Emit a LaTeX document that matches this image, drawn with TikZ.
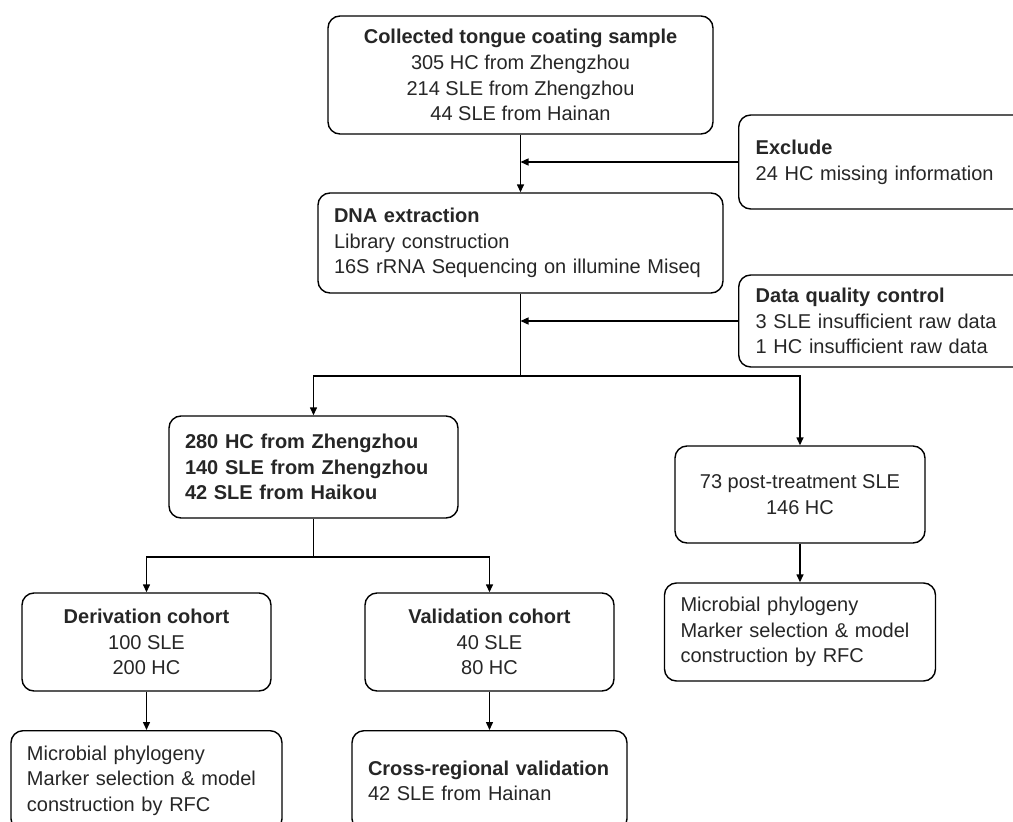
\documentclass[tikz,border=0pt]{standalone}
\usepackage{fontspec}
\setmainfont{Liberation Sans}
\usepackage{tikz}
\usetikzlibrary{arrows.meta,positioning,calc}

\begin{document}
\begin{tikzpicture}[
    x=1pt, y=-1pt,
    >={Triangle[length=8pt, width=7pt]},
    line width=1.4pt,
    box/.style={
        rectangle, draw, rounded corners=12pt,
        inner ysep=0pt, inner xsep=16pt,
        font=\fontsize{20}{25.7}\selectfont,
        text=black!85
    },
    midbox/.style={box, align=center},
    leftbox/.style={box, align=left}
]
    \useasboundingbox (0,0) rectangle (1013,822);
    \clip (0,0) rectangle (1013,822);

    % Sampling and sequencing
    \node [midbox, minimum width=385pt, minimum height=118pt] (collect) at (520.5,75)
        {\textbf{Collected tongue coating sample}\\305 HC from Zhengzhou\\214 SLE from Zhengzhou\\44 SLE from Hainan};
    \node [leftbox, text width=373pt, minimum height=100pt] (dna) at (520.5,243)
        {\textbf{DNA extraction}\\Library construction\\16S rRNA Sequencing on illumine Miseq};
    \node [leftbox, anchor=west, text width=300pt, minimum height=94pt, inner xsep=17pt] (exclude) at (738,162)
        {\textbf{Exclude}\\24 HC missing information};
    \node [leftbox, anchor=west, text width=300pt, minimum height=92pt, inner xsep=17pt] (quality) at (738,321)
        {\textbf{Data quality control}\\3 SLE insufficient raw data\\1 HC insufficient raw data};

    % Cohorts
    \node [leftbox, text width=257pt, minimum height=102pt] (cohorts) at (313.5,467)
        {\textbf{280 HC from Zhengzhou}\\\textbf{140 SLE from Zhengzhou}\\\textbf{42 SLE from Haikou}};
    \node [midbox, minimum width=250pt, minimum height=97pt] (posttreat) at (800,494.5)
        {73 post-treatment SLE\\146 HC};
    \node [leftbox, text width=239pt, minimum height=98pt, inner xsep=16pt] (modelright) at (800,632)
        {Microbial phylogeny\\Marker selection \& model\\construction by RFC};
    \node [midbox, minimum width=249pt, minimum height=98pt] (derivation) at (146.5,642)
        {\textbf{Derivation cohort}\\100 SLE\\200 HC};
    \node [midbox, minimum width=249pt, minimum height=98pt] (validation) at (489.5,642)
        {\textbf{Validation cohort}\\40 SLE\\80 HC};
    \node [leftbox, anchor=north, text width=239pt, minimum height=100pt] (modelleft) at (146.5,730)
        {Microbial phylogeny\\Marker selection \& model\\construction by RFC};
    \node [leftbox, anchor=north, text width=243pt, minimum height=100pt] (crossval) at (489.5,730)
        {\textbf{Cross-regional validation}\\42 SLE from Hainan};

    % Connectors
    \coordinate (split1) at (520.5,376);
    \coordinate (split2) at (313.5,557);

    \draw [->] (collect) -- (dna);
    \draw [->] (exclude.west) -- (exclude.west -| collect.south);
    \draw (dna.south) -- (split1);
    \draw [->] (quality.west) -- (quality.west -| dna.south);
    \draw [->] (split1) -| (cohorts.north);
    \draw [->] (split1) -| (posttreat.north);
    \draw (cohorts.south) -- (split2);
    \draw [->] (split2) -| (derivation.north);
    \draw [->] (split2) -| (validation.north);
    \draw [->] (derivation) -- (modelleft);
    \draw [->] (validation) -- (crossval);
    \draw [->] (posttreat) -- (modelright);

\end{tikzpicture}
\end{document}
